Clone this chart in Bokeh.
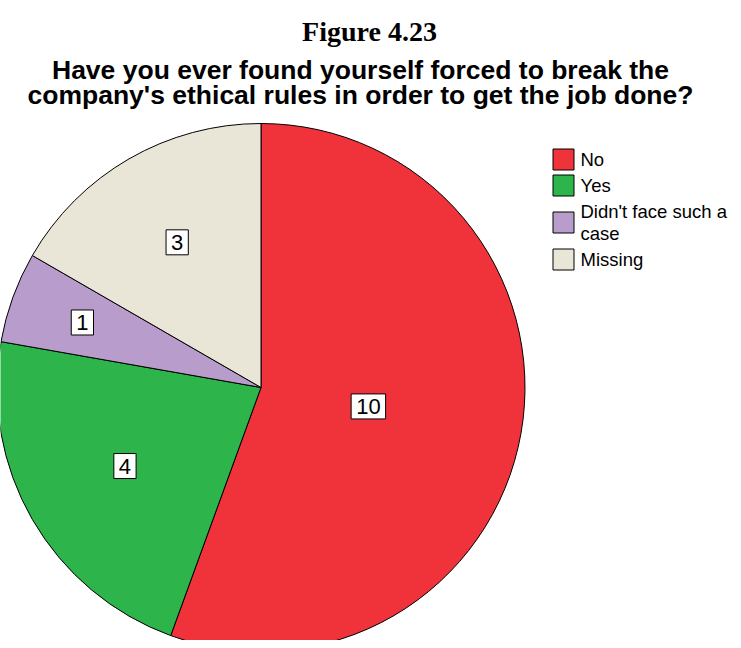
import math
from bokeh.plotting import figure
from bokeh.models import Range1d, ColumnDataSource
from bokeh.core.properties import value
from bokeh.embed import file_html
from bokeh.resources import INLINE

# ---- data ----
categories = ["No", "Yes", "Didn't face such a case", "Missing"]
counts = [10, 4, 1, 3]
colors = ["#F0333B", "#2DB44B", "#B89CCB", "#E9E6D8"]
legend_labels = ["No", "Yes", "Didn't face such a\ncase", "Missing"]
title_text = "Figure 4.23"
subtitle_lines = ["Have you ever found yourself forced to break the",
                  "company's ethical rules in order to get the job done?"]

# ---- layout (screen-pixel coordinates; data y = 648 - screen y) ----
W, H = 733, 640
def sy(y):
    return 648 - y

p = figure(width=W, height=H, x_range=Range1d(0, 733), y_range=Range1d(8, 648),
           output_backend="svg", toolbar_location=None, min_border=0,
           x_axis_location=None, y_axis_location=None)
p.grid.visible = False
p.outline_line_color = None

cx, cy, R = 260.5, sy(387), 264
total = sum(counts)
starts, ends, mids = [], [], []
cum = 0
for c in counts:
    a0 = math.pi / 2 - 2 * math.pi * cum / total
    cum += c
    a1 = math.pi / 2 - 2 * math.pi * cum / total
    starts.append(a0); ends.append(a1); mids.append((a0 + a1) / 2)

src = ColumnDataSource(dict(start=starts, end=ends, color=colors, cat=categories))
p.wedge(x=cx, y=cy, radius=R, start_angle="start", end_angle="end", direction="clock",
        fill_color="color", line_color="black", line_width=1, source=src)

# value labels (placed along each slice's mid angle)
label_r = [0.413, 0.595, 0.72, 0.635]
lx = [cx + R * f * math.cos(m) for f, m in zip(label_r, mids)]
ly = [cy + R * f * math.sin(m) for f, m in zip(label_r, mids)]
p.text(x=lx, y=ly, text=[str(c) for c in counts], text_align="center", text_baseline="middle",
       text_font=value("Liberation Sans"), text_font_size="22px", text_color="black",
       background_fill_color="white", border_line_color="black", border_line_width=1, padding=5)

# legend
leg_y = [sy(v) for v in (159, 185, 222, 259)]
p.rect(x=[563] * 4, y=leg_y, width=21, height=21, fill_color=colors, line_color="black", line_width=1)
p.text(x=[580] * 4, y=leg_y, text=legend_labels, text_align="left", text_baseline="middle",
       text_font=value("Liberation Sans"), text_font_size="18.5px", text_color="black",
       text_line_height=1.05)

# titles
p.text(x=[369], y=[sy(31)], text=[title_text], text_align="center", text_baseline="alphabetic",
       text_font=value("Liberation Serif"), text_font_size="28px", text_font_style="bold",
       text_color="black")
p.text(x=[360, 360], y=[sy(69), sy(94)], text=subtitle_lines, text_align="center",
       text_baseline="alphabetic", text_font=value("Liberation Sans"), text_font_size="26.5px",
       text_font_style="bold", text_color="black")

open("out.html", "w").write(file_html(p, INLINE))
